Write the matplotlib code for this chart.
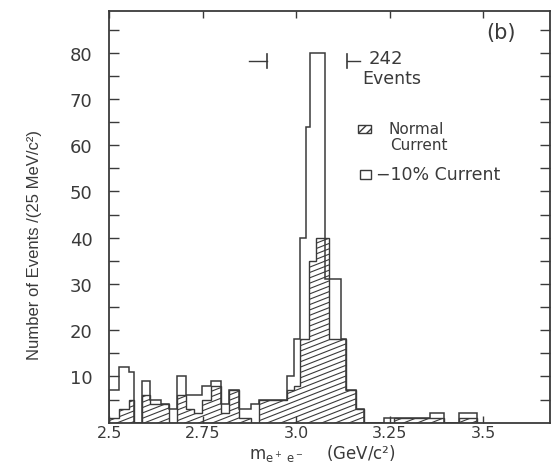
import numpy as np
import matplotlib.pyplot as plt
from matplotlib.collections import LineCollection
from matplotlib.patches import Rectangle

# e+e- invariant mass spectrum, bins
open_edges = [2.500, 2.526, 2.553, 2.566, 2.588, 2.608, 2.637, 2.660, 2.682, 2.704,
              2.749, 2.771, 2.798, 2.820, 2.847, 2.878, 2.900, 2.954, 2.976, 2.994,
              3.011, 3.027, 3.038, 3.076, 3.120, 3.132, 3.159, 3.181, 3.234, 3.261,
              3.358, 3.395, 3.435, 3.484]
open_counts = [7, 12, 11, 0, 9, 5, 4, 3, 10, 6,
               8, 9, 4, 7, 3, 4, 5, 5, 10, 18,
               40, 64, 80, 31, 18, 7, 3, 0, 1, 1,
               2, 0, 2]

hatch_edges = [2.500, 2.526, 2.553, 2.566, 2.588, 2.608, 2.637, 2.660, 2.682, 2.704,
               2.727, 2.749, 2.771, 2.798, 2.820, 2.847, 2.878, 2.900, 2.954, 2.976,
               2.994, 3.011, 3.034, 3.052, 3.087, 3.132, 3.159, 3.181, 3.261, 3.358,
               3.395, 3.435, 3.484]
hatch_counts = [1, 3, 5, 0, 6, 4, 4, 0, 6, 3,
                2, 5, 8, 2, 7, 1, 0, 5, 5, 7,
                8, 18, 35, 40, 18, 7, 3, 0, 1, 1,
                0, 1]

window = [2.922, 3.136]   # mass window of the 242 events
n_events = 242

xticks = [2.5, 2.75, 3.0, 3.25, 3.5]
xticklabels = ["2.5", "2.75", "3.0", "3.25", "3.5"]

ink = "#3a3a3a"
plt.rcParams["font.family"] = ["DejaVu Sans"]

fig = plt.figure(figsize=(5.52, 4.64), dpi=100)
ax = fig.add_axes([0.198, 0.087, 0.799, 0.887])

# normal current (hatched)
hpatch = ax.stairs(hatch_counts, hatch_edges, fill=True, facecolor="none",
                   edgecolor=ink, lw=1.0)
offsets = np.arange(-0.45, 1.0, 0.013)
segs = [[(0, b), (1, b + 0.42)] for b in offsets]
lc = LineCollection(segs, colors=ink, linewidths=0.8, transform=ax.transAxes)
ax.add_collection(lc, autolim=False)
lc.set_clip_path(hpatch)

# -10% current (open outline)
ax.stairs(open_counts, open_edges, color=ink, lw=1.1)

ax.set_xlim(2.5, 3.68)
ax.set_ylim(0, 89)
ax.set_xticks(xticks)
ax.set_xticklabels(xticklabels)
ax.set_yticks(range(10, 90, 10))
ax.set_yticks(range(5, 90, 10), minor=True)
ax.tick_params(which="both", direction="in", top=True, right=True,
               length=7, width=1, color=ink, labelsize=13, labelcolor=ink)
ax.tick_params(axis="y", pad=12)
ax.tick_params(axis="x", pad=1.5, length=5, labelsize=11.5)
for s in ax.spines.values():
    s.set_color(ink)
    s.set_linewidth(1.3)

fig.text(0.063, 0.472, "Number of Events /(25 MeV/c²)", rotation=90,
         ha="center", va="center", size=12, color=ink,
         family=["Liberation Sans", "DejaVu Sans"])
fig.text(0.583, 0.0, r"$\mathregular{m_{e^+\ e^-}}$    (GeV/c²)",
         ha="center", va="bottom", size=12, color=ink)

ax.text(0.889, 0.949, "(b)", transform=ax.transAxes, ha="center", va="center",
        size=15, color=ink)

# window markers
tr = ax.get_xaxis_transform()
ax.plot([window[0] - 0.048, window[0]], [0.879, 0.879], color=ink, lw=1, transform=tr)
ax.plot([window[0], window[0]], [0.862, 0.896], color=ink, lw=1.2, transform=tr)
ax.plot([window[1], window[1] + 0.036], [0.879, 0.879], color=ink, lw=1, transform=tr)
ax.plot([window[1], window[1]], [0.862, 0.896], color=ink, lw=1.2, transform=tr)
ax.text(0.588, 0.886, str(n_events), transform=ax.transAxes, ha="left",
        va="center", size=13, color=ink)
ax.text(0.574, 0.838, "Events", transform=ax.transAxes, ha="left",
        va="center", size=12.5, color=ink)

# legend
ax.add_patch(Rectangle((0.564, 0.703), 0.030, 0.020, transform=ax.transAxes,
                       facecolor="white", edgecolor=ink, hatch="////", lw=1))
ax.text(0.632, 0.715, "Normal", transform=ax.transAxes, ha="left", va="center",
        size=11, color=ink)
ax.text(0.636, 0.677, "Current", transform=ax.transAxes, ha="left", va="center",
        size=11, color=ink)
ax.add_patch(Rectangle((0.568, 0.592), 0.026, 0.022, transform=ax.transAxes,
                       facecolor="white", edgecolor=ink, lw=1))
ax.text(0.605, 0.604, "−10% Current", transform=ax.transAxes, ha="left",
        va="center", size=12.5, color=ink)

fig.savefig("out.png", dpi=100)
